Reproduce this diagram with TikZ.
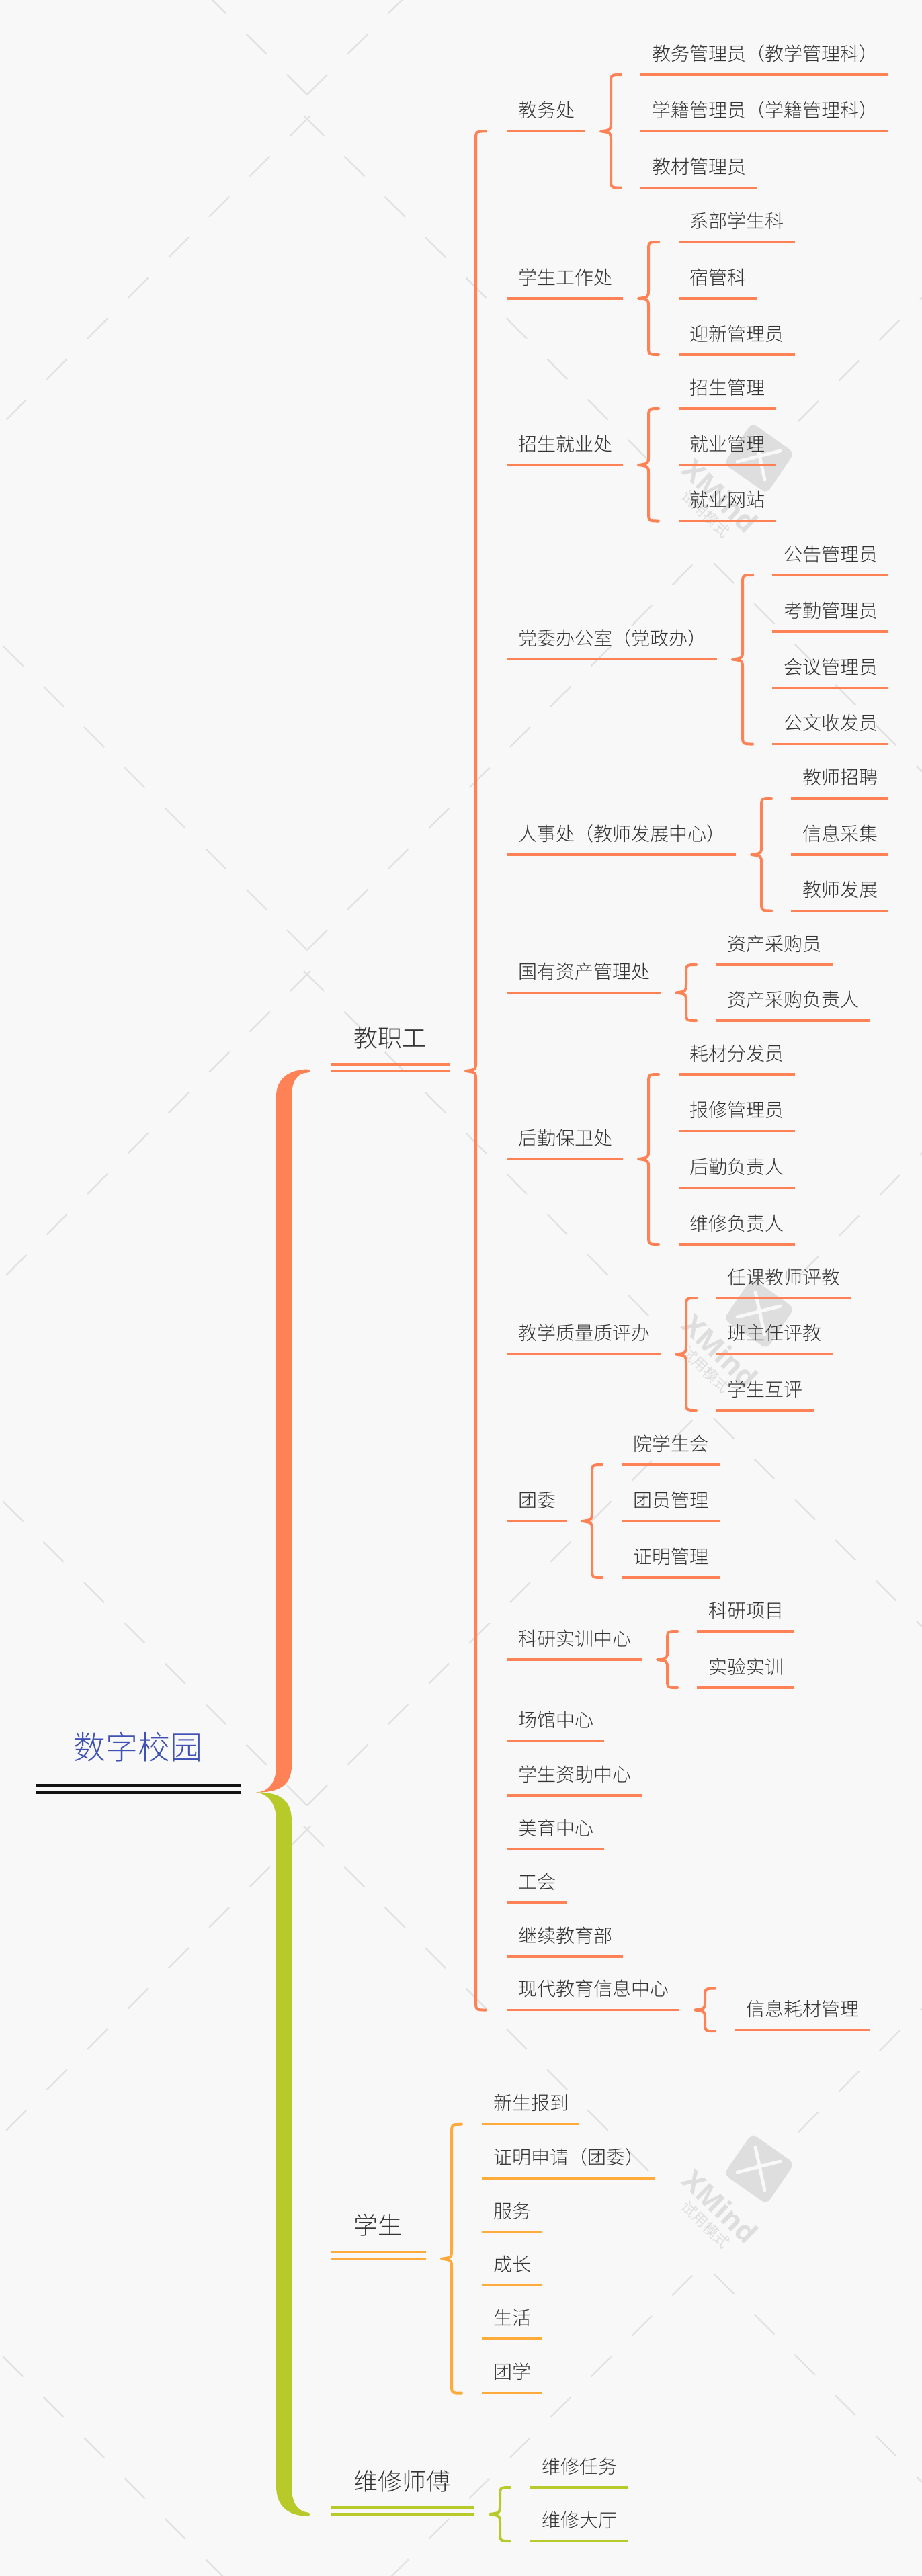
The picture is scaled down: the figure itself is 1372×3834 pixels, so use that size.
\documentclass[tikz,border=0pt]{standalone}
\usepackage{fontspec}
\newfontfamily\cjk[UprightFont=* Light]{Noto Sans CJK SC}
\newfontfamily\cjkreg{Noto Sans CJK SC}
\newfontfamily\wmfont{Open Sans}
\usetikzlibrary{calc}
\definecolor{bgc}{HTML}{F8F8F8}
\definecolor{oc}{HTML}{FF8257}
\definecolor{gc}{HTML}{B8CA29}
\definecolor{ac}{HTML}{FFAB3B}
\definecolor{txc}{HTML}{333333}
\definecolor{wmc}{HTML}{E1E1E1}
\definecolor{wmd}{HTML}{DEDEDE}
\definecolor{rootc}{HTML}{3F51B5}
\tikzset{
  basenode/.style={inner sep=0pt,outer sep=0pt,anchor=south west,text=txc},
  lvtwo/.style={basenode,minimum height=63pt,text height=22pt,text depth=0.72pt,font=\cjk\fontsize{28pt}{28pt}\selectfont},
  lvone/.style={basenode,minimum height=99pt,text height=28pt,text depth=0.64pt,font=\cjk\fontsize{36pt}{36pt}\selectfont},
  rootnode/.style={basenode,minimum width=305pt,minimum height=135pt,text height=37pt,text depth=0.52pt,text=rootc,font=\cjk\fontsize{48pt}{48pt}\selectfont},
  uline/.style={line width=3.5pt},
  bracep/.style={line width=4pt,line cap=round,line join=round},
  wmline/.style={wmc,line width=2.2pt,dash pattern=on 42.4pt off 43pt},
}
\newcommand{\tp}[5]{%
  \node[lvtwo] (#1) at (#2,#3) {\kern17pt #5\kern16pt};
  \draw[uline,#4] (#1.south west) -- (#1.south east);
}
\newcommand{\tpone}[5]{%
  \node[lvone] (#1) at (#2,#3) {\kern34pt #5\kern36pt};
  \draw[uline,#4] (#1.south west) -- (#1.south east);
  \draw[uline,#4] ($(#1.south west)+(0,-10)$) -- ($(#1.south east)+(0,-10)$);
}
% parent, top child, bottom child, colour
\newcommand{\brc}[4]{%
  \draw[bracep,#4] let \p1=(#1.south east), \p2=(#2), \p3=(#3) in
    ({\x1+38pt+15pt},\y2) .. controls ({\x1+38pt},\y2) and ({\x1+38pt},\y2) .. ({\x1+38pt},{\y2-14pt})
    -- ({\x1+38pt},{\y1+13pt}) .. controls ({\x1+38pt},{\y1+2pt}) .. ({\x1+23pt},\y1)
    .. controls ({\x1+38pt},{\y1-2pt}) .. ({\x1+38pt},{\y1-13pt})
    -- ({\x1+38pt},{\y3+14pt}) .. controls ({\x1+38pt},\y3) and ({\x1+38pt},\y3) .. ({\x1+38pt+15pt},\y3);
}
\newcommand{\wmark}[1]{%
  \begin{scope}[shift={(1130,#1)}]
    \fill[wmd,rounded corners=9pt] (-11,-53) -- (52,-8) -- (11,53) -- (-53,8) -- cycle;
    \draw[bgc,line width=5pt,line cap=round] (-6,-32) -- (8,32);
    \draw[bgc,line width=5pt,line cap=round] (-33,5) -- (31,-11);
    \node[rotate=-44,text=wmd,font=\wmfont\bfseries\fontsize{42pt}{42pt}\selectfont,inner sep=0pt] (wmx#1) at (-58,56) {XMind};
    \node[rotate=-44,text=wmd,font=\cjkreg\fontsize{22pt}{22pt}\selectfont,inner sep=0pt] (wmt#1) at (-80,83) {试用模式};
  \end{scope}
}
\begin{document}
\begin{tikzpicture}[x=1pt,y=-1pt]
\useasboundingbox (0,0) rectangle (1372,3834);
\fill[bgc] (0,0) rectangle (1372,3834);
\begin{scope}
  \clip (0,0) rectangle (1372,3834);
  \foreach \k in {0,1,2,3}{
    \pgfmathsetmacro{\K}{1273*\k}
    \draw[wmline] (457,{141+\K}) -- (1032,{141+\K-575});
    \draw[wmline] (457,{141+\K}) -- (-20,{141+\K-477});
  }
  \foreach \k in {0,1,2}{
    \pgfmathsetmacro{\K}{1273*\k}
    \draw[wmline] (462,{172+\K}) -- (-20,{172+\K+482});
    \draw[wmline] (452,{172+\K}) -- (969,{172+\K+517});
    \draw[wmline] (1188,{627+\K}) -- (1400,{627+\K-212});
    \draw[wmline] (1062,{838+\K}) -- (1400,{838+\K+338});
  }
  \wmark{682}
  \wmark{1955}
  \wmark{3228}
\end{scope}

% root
\node[rootnode] (root) at (53,2667.5) {数字校园};
\draw[line width=5pt,black!93] (root.south west) -- (root.south east);
\draw[line width=5pt,black!93] ($(root.south west)+(0,-10)$) -- ($(root.south east)+(0,-10)$);

% first level
\tpone{teach}{492}{1594}{oc}{教职工}
\tpone{stud}{492}{3361.7}{ac}{学生}
\tpone{maint}{492}{3742}{gc}{维修师傅}

\coordinate (tip) at ($(root.south east)+(23,0)$);
\coordinate (oEnd) at ($(teach.south west)+(-31,0)$);
\coordinate (gEnd) at ($(maint.south west)+(-31,0)$);
\fill[oc] (tip) .. controls (398,2667) and (411,2655) .. (411,2628) -- (411,1632)
  .. controls (411,1605) and (430,1592) .. (458,1591.5) .. controls (460,1591.5) and (461,1593) .. (oEnd)
  .. controls (461,1595) and (460,1596.5) .. (458,1596.5) .. controls (442,1597) and (434,1608) .. (434,1635)
  -- (434,2628) .. controls (434,2655) and (418,2668) .. (tip) -- cycle;
\fill[gc] (tip) .. controls (418,2667) and (434,2680) .. (434,2710) -- (434,3700)
  .. controls (434,3725) and (442,3737) .. (458,3739.5) .. controls (460,3739.5) and (461,3741) .. (gEnd)
  .. controls (461,3744) and (460,3745) .. (458,3745) .. controls (428,3744) and (411,3730) .. (411,3700)
  -- (411,2710) .. controls (411,2682) and (398,2670) .. (tip) -- cycle;

% second level, teaching staff
\tp{a}{754}{195.4}{oc}{教务处}
\tp{a1}{953}{111}{oc}{教务管理员（教学管理科）}
\tp{a2}{953}{195.4}{oc}{学籍管理员（学籍管理科）}
\tp{a3}{953}{279.6}{oc}{教材管理员}
\brc{a}{a1.south west}{a3.south west}{oc}

\tp{b}{754}{444}{oc}{学生工作处}
\tp{b1}{1009.5}{360}{oc}{系部学生科}
\tp{b2}{1009.5}{444}{oc}{宿管科}
\tp{b3}{1009.5}{528}{oc}{迎新管理员}
\brc{b}{b1.south west}{b3.south west}{oc}

\tp{c}{754}{692}{oc}{招生就业处}
\tp{c1}{1009.5}{608}{oc}{招生管理}
\tp{c2}{1009.5}{692}{oc}{就业管理}
\tp{c3}{1009.5}{775.5}{oc}{就业网站}
\brc{c}{c1.south west}{c3.south west}{oc}

\tp{d}{754}{981.5}{oc}{党委办公室（党政办）}
\tp{d1}{1149}{856}{oc}{公告管理员}
\tp{d2}{1149}{940}{oc}{考勤管理员}
\tp{d3}{1149}{1024}{oc}{会议管理员}
\tp{d4}{1149}{1107.5}{oc}{公文收发员}
\brc{d}{d1.south west}{d4.south west}{oc}

\tp{e}{754}{1272}{oc}{人事处（教师发展中心）}
\tp{e1}{1177}{1188}{oc}{教师招聘}
\tp{e2}{1177}{1272}{oc}{信息采集}
\tp{e3}{1177}{1355.5}{oc}{教师发展}
\brc{e}{e1.south west}{e3.south west}{oc}

\tp{f}{754}{1477.5}{oc}{国有资产管理处}
\tp{f1}{1065.6}{1436}{oc}{资产采购员}
\tp{f2}{1065.6}{1519}{oc}{资产采购负责人}
\brc{f}{f1.south west}{f2.south west}{oc}

\tp{g}{754}{1725}{oc}{后勤保卫处}
\tp{g1}{1009.5}{1599}{oc}{耗材分发员}
\tp{g2}{1009.5}{1683.5}{oc}{报修管理员}
\tp{g3}{1009.5}{1768}{oc}{后勤负责人}
\tp{g4}{1009.5}{1852}{oc}{维修负责人}
\brc{g}{g1.south west}{g4.south west}{oc}

\tp{h}{754}{2015.6}{oc}{教学质量质评办}
\tp{h1}{1065.6}{1932}{oc}{任课教师评教}
\tp{h2}{1065.6}{2015.6}{oc}{班主任评教}
\tp{h3}{1065.6}{2099}{oc}{学生互评}
\brc{h}{h1.south west}{h3.south west}{oc}

\tp{i}{754}{2264}{oc}{团委}
\tp{i1}{925.5}{2180}{oc}{院学生会}
\tp{i2}{925.5}{2264}{oc}{团员管理}
\tp{i3}{925.5}{2348}{oc}{证明管理}
\brc{i}{i1.south west}{i3.south west}{oc}

\tp{j}{754}{2470}{oc}{科研实训中心}
\tp{j1}{1037.3}{2428}{oc}{科研项目}
\tp{j2}{1037.3}{2512}{oc}{实验实训}
\brc{j}{j1.south west}{j2.south west}{oc}

\tp{k}{754}{2591.5}{oc}{场馆中心}
\tp{l}{754}{2672}{oc}{学生资助中心}
\tp{m}{754}{2752}{oc}{美育中心}
\tp{n}{754}{2832}{oc}{工会}
\tp{o}{754}{2912}{oc}{继续教育部}
\tp{p}{754}{2991.5}{oc}{现代教育信息中心}
\tp{p1}{1093.5}{3021.6}{oc}{信息耗材管理}
\coordinate (pTop) at ($(p1.south west)+(0,-62)$);
\coordinate (pBot) at ($(p1.south west)+(0,1.5)$);
\brc{p}{pTop}{pBot}{oc}

\brc{teach}{a.south west}{p.south west}{oc}

% students
\tp{q1}{717.4}{3161.7}{ac}{新生报到}
\tp{q2}{717.4}{3242}{ac}{证明申请（团委）}
\tp{q3}{717.4}{3322}{ac}{服务}
\tp{q4}{717.4}{3401.6}{ac}{成长}
\tp{q5}{717.4}{3481}{ac}{生活}
\tp{q6}{717.4}{3561.7}{ac}{团学}
\brc{stud}{q1.south west}{q6.south west}{ac}

% maintenance
\tp{r1}{789}{3702}{gc}{维修任务}
\tp{r2}{789}{3782}{gc}{维修大厅}
\brc{maint}{r1.south west}{r2.south west}{gc}
\end{tikzpicture}
\end{document}
